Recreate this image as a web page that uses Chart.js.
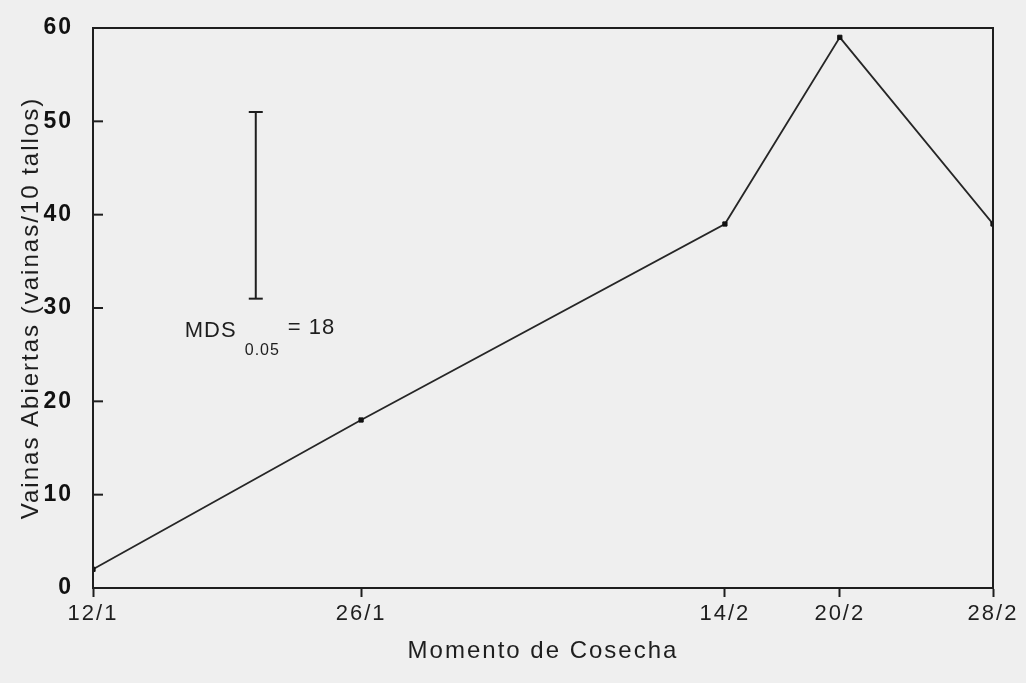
<!DOCTYPE html>
<html>
<head>
<meta charset="utf-8">
<script src="https://cdn.jsdelivr.net/npm/chart.js@4/dist/chart.umd.min.js"></script>
<style>
html, body { margin: 0; padding: 0; background: #efefef; }
canvas { display: block; }
</style>
</head>
<body>
<canvas id="cosecha_graph" width="1026" height="683"></canvas>
<script>
// Harvest dates as days after 12/1, with their tick labels
var harvestDays = [0, 14, 33, 39, 47];
var harvestLabels = ['12/1', '26/1', '14/2', '20/2', '28/2'];
// Open pods per 10 stems
var openPods = [2, 18, 39, 59, 39];
var yTickValues = [0, 10, 20, 30, 40, 50, 60];

// MDS (least significant difference) bar
var mdsDay = 8.5;
var mdsLow = 31;
var mdsHigh = 51;
var mdsLabel = 'MDS';
var mdsSub = '0.05';
var mdsValue = '= 18';

var inkColor = '#1e1e1e';
var fontName = '"Liberation Sans", Arial, Helvetica, sans-serif';

// frame, inner y ticks and MDS text
var framePlugin = {
    id: 'framePlugin',
    beforeUpdate: function (chart) {
        chart.ctx.letterSpacing = '2px';
    },
    beforeDraw: function (chart) {
        chart.ctx.letterSpacing = '2px';
    },
    afterDatasetsDraw: function (chart) {
        var ctx = chart.ctx;
        var area = chart.chartArea;
        var yScale = chart.scales.y;
        var xScale = chart.scales.x;
        ctx.save();
        ctx.strokeStyle = inkColor;
        ctx.lineWidth = 2;
        ctx.strokeRect(area.left, area.top, area.right - area.left, area.bottom - area.top);

        // y ticks point inward
        yTickValues.forEach(function (v) {
            var py = yScale.getPixelForValue(v);
            ctx.beginPath();
            ctx.moveTo(area.left, py);
            ctx.lineTo(area.left + 10, py);
            ctx.stroke();
        });

        // MDS label under the bar
        var bx = xScale.getPixelForValue(mdsDay);
        var by = yScale.getPixelForValue(mdsLow);
        ctx.fillStyle = inkColor;
        ctx.textAlign = 'left';
        ctx.textBaseline = 'alphabetic';
        ctx.letterSpacing = '1px';
        ctx.font = '22px ' + fontName;
        ctx.fillText(mdsLabel, bx - 71, by + 38);
        ctx.fillText(mdsValue, bx + 32, by + 35);
        ctx.font = '16px ' + fontName;
        ctx.fillText(mdsSub, bx - 11, by + 56);
        ctx.restore();
    }
};

var canvas = document.getElementById('cosecha_graph').getContext('2d');

var cosecha_graph = new Chart(canvas, {
    type: 'line',
    data: {
        datasets: [{
            label: 'Vainas abiertas',
            data: harvestDays.map(function (d, i) { return { x: d, y: openPods[i] }; }),
            borderColor: '#262626',
            borderWidth: 1.8,
            pointStyle: 'rect',
            pointRadius: 3,
            pointBackgroundColor: '#111',
            pointBorderColor: '#111',
            pointBorderWidth: 1,
            fill: false,
            tension: 0
        },
        {
            label: 'MDS',
            data: [{ x: mdsDay, y: mdsLow }, { x: mdsDay, y: mdsHigh }],
            borderColor: inkColor,
            borderWidth: 2,
            pointStyle: 'line',
            pointRadius: 7,
            pointBorderColor: inkColor,
            pointBorderWidth: 2,
            fill: false
        }]
    },
    options: {
        responsive: false,
        animation: false,
        layout: { padding: { top: 28, right: 33, left: 0, bottom: 0 } },
        plugins: {
            legend: { display: false },
            tooltip: { enabled: false }
        },
        scales: {
            x: {
                type: 'linear',
                min: 0,
                max: 47,
                afterBuildTicks: function (scale) {
                    scale.ticks = harvestDays.map(function (d) { return { value: d }; });
                },
                afterFit: function (scale) { scale.height = 95; },
                grid: {
                    drawOnChartArea: false,
                    drawTicks: true,
                    tickLength: 9,
                    tickWidth: 2,
                    tickColor: inkColor
                },
                border: { display: true, color: inkColor, width: 2 },
                ticks: {
                    autoSkip: false,
                    maxRotation: 0,
                    padding: 4,
                    color: inkColor,
                    font: { family: fontName, size: 22 },
                    callback: function (value) {
                        return harvestLabels[harvestDays.indexOf(value)];
                    }
                },
                title: {
                    display: true,
                    text: 'Momento de Cosecha',
                    color: inkColor,
                    font: { family: fontName, size: 24 },
                    padding: { top: 0, bottom: 17 }
                }
            },
            y: {
                min: 0,
                max: 60,
                afterBuildTicks: function (scale) {
                    scale.ticks = yTickValues.map(function (v) { return { value: v }; });
                },
                afterFit: function (scale) { scale.width = 93; },
                grid: { display: false },
                border: { display: true, color: inkColor, width: 2 },
                ticks: {
                    padding: 12,
                    color: '#111',
                    font: { family: fontName, size: 23, weight: 'bold' }
                },
                title: {
                    display: true,
                    text: 'Vainas Abiertas (vainas/10 tallos)',
                    color: inkColor,
                    font: { family: fontName, size: 24 },
                    padding: { top: 17, bottom: 0 }
                }
            }
        }
    },
    plugins: [framePlugin]
});
</script>
</body>
</html>
